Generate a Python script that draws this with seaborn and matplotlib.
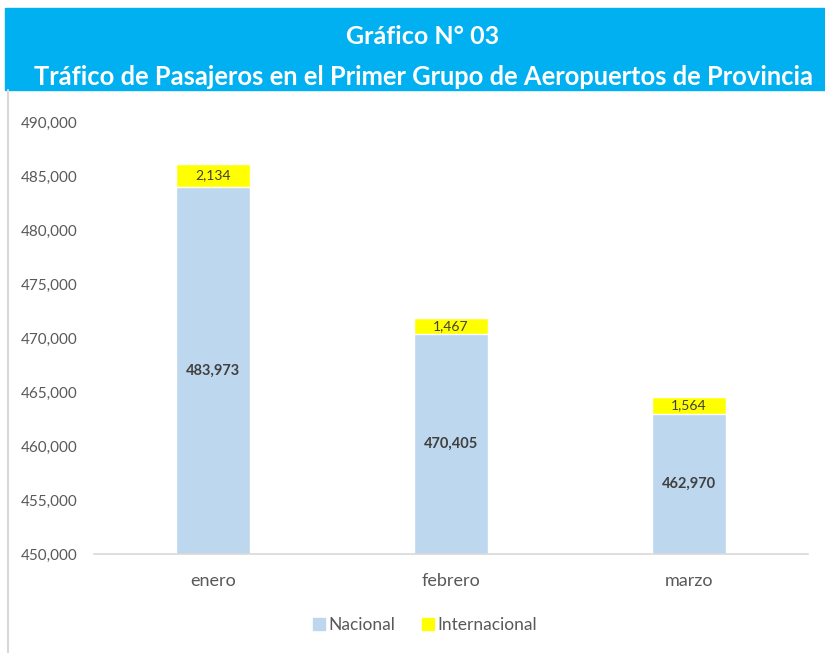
import matplotlib.pyplot as plt
import seaborn as sns
import numpy as np
from matplotlib.patches import Patch, Rectangle

# Datos
meses = ["enero", "febrero", "marzo"]
nacional = [483973, 470405, 462970]
internacional = [2134, 1467, 1564]
y_ticks = [450000, 455000, 460000, 465000, 470000, 475000, 480000, 485000, 490000]

color_nac = "#BDD7EE"
color_int = "#FFFF00"
fuente = ["Lato", "DejaVu Sans"]

sns.set_theme(style="white")
plt.rcParams["font.family"] = fuente

total = [n + i for n, i in zip(nacional, internacional)]

fig = plt.figure(figsize=(8.25, 6.53), dpi=100)

# Banda del título
fig.patches.append(Rectangle((5 / 825, 1 - 90 / 653), 1, 82 / 653, transform=fig.transFigure,
                             color="#00B0F0", zorder=0))
# Borde izquierdo
fig.lines.append(plt.Line2D([8 / 825, 8 / 825], [0, 1 - 90 / 653], transform=fig.transFigure,
                            color="#D9D9D9", lw=1.5))
fig.text(423 / 825, 1 - 37 / 653, "Gráfico N° 03", ha="center", va="center",
         color="white", fontsize=18, fontweight="bold")
fig.text(423 / 825, 1 - 77 / 653, "Tráfico de Pasajeros en el Primer Grupo de Aeropuertos de Provincia",
         ha="center", va="center", color="white", fontsize=18.4, fontweight="bold")

ax = fig.add_axes([94 / 825, 1 - 554 / 653, (808 - 94) / 825, (554 - 122) / 653])

sns.barplot(x=meses, y=total, color=color_int, width=0.31, saturation=1, ax=ax)
sns.barplot(x=meses, y=nacional, color=color_nac, width=0.31, saturation=1, ax=ax)

ax.set_ylim(y_ticks[0], y_ticks[-1])
ax.set_xlim(-0.5, 2.5)
ax.set_yticks(y_ticks)
ax.set_yticklabels([f"{v:,}" for v in y_ticks], color="#595959", fontsize=11)
ax.tick_params(axis="x", colors="#595959", labelsize=13, length=0, pad=14)
ax.tick_params(axis="y", length=0, pad=12)
ax.set_xlabel("")
ax.set_ylabel("")
for s in ["top", "right", "left"]:
    ax.spines[s].set_visible(False)
ax.spines["bottom"].set_color("#D9D9D9")
ax.spines["bottom"].set_linewidth(1.2)

# Etiquetas de datos
for i, (n, t, v) in enumerate(zip(nacional, total, internacional)):
    ax.text(i, (y_ticks[0] + n) / 2, f"{n:,}", ha="center", va="center",
            color="#404040", fontsize=10.5, fontweight="bold")
    ax.text(i, (n + t) / 2, f"{v:,}", ha="center", va="center",
            color="#404040", fontsize=10)

handles = [Patch(color=color_nac, label="Nacional"), Patch(color=color_int, label="Internacional")]
fig.legend(handles=handles, loc="center", bbox_to_anchor=(425 / 825, 1 - 625 / 653), ncol=2,
           frameon=False, fontsize=12.5, handlelength=0.7, handleheight=0.7, handletextpad=0.2,
           columnspacing=1.5, labelcolor="#595959")

fig.savefig("out.png", dpi=100)
